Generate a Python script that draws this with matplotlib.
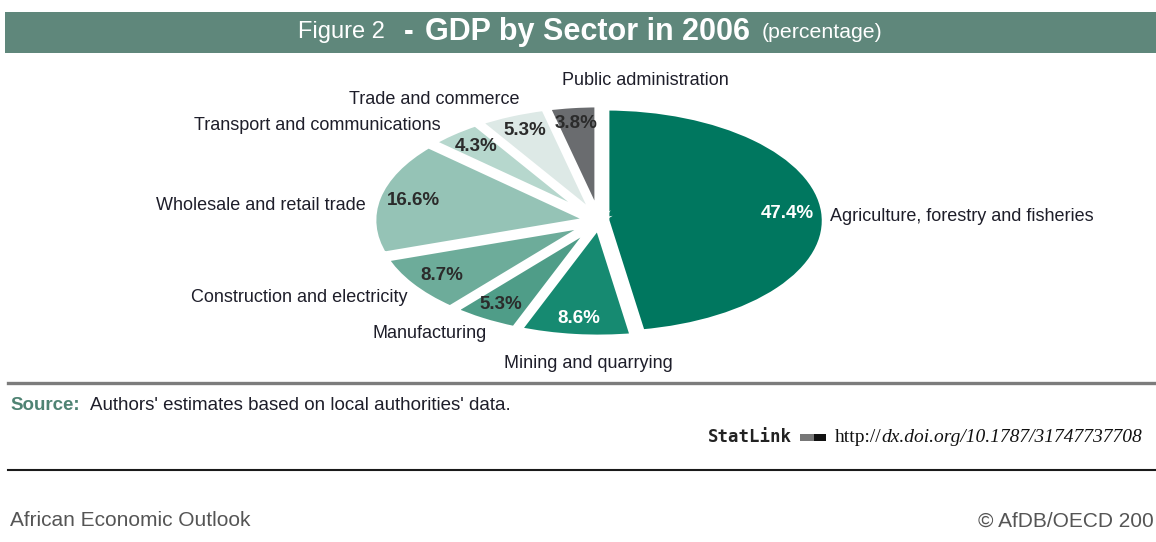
import matplotlib.pyplot as plt
from matplotlib.patches import Rectangle

sectors = ["Agriculture, forestry and fisheries", "Mining and quarrying", "Manufacturing",
           "Construction and electricity", "Wholesale and retail trade",
           "Transport and communications", "Trade and commerce", "Public administration"]
shares = [47.4, 8.6, 5.3, 8.7, 16.6, 4.3, 5.3, 3.8]
colors = ["#00775f", "#168a71", "#4f9d88", "#6dac9a", "#95c3b6", "#b6d7cd", "#dde9e6", "#6a6c6f"]
pct_colors = ["white", "white", "#2b2b2b", "#2b2b2b", "#2b2b2b", "#2b2b2b", "#2b2b2b", "#2b2b2b"]

# where each sector name sits (pie units) and how it is aligned
label_pos = [(1.05, 0.04, "left"), (-0.05, -1.25, "center"), (-0.51, -0.99, "right"),
             (-0.87, -0.67, "right"), (-1.06, 0.14, "right"), (-0.72, 0.84, "right"),
             (-0.36, 1.07, "right"), (0.21, 1.23, "center")]

W, H = 1156, 542
CX, CY, RX, RY = 599, 221, 220, 114

fig = plt.figure(figsize=(W / 100, H / 100), dpi=100)
fig.patch.set_facecolor("white")

ax = fig.add_axes([0, 0, 1, 1])
wedges, texts, autotexts = ax.pie(
    shares, colors=colors, startangle=90, counterclock=False,
    explode=[0.03] * len(shares),
    wedgeprops=dict(edgecolor="white", linewidth=5.5),
    autopct=lambda p: f"{p:.1f}%", pctdistance=0.83,
    textprops=dict(fontsize=13.5, fontweight="bold", family="Liberation Sans"))
for t, c in zip(autotexts, pct_colors):
    t.set_color(c)
ax.set_aspect("auto")
ax.set_xlim(-CX / RX, (W - CX) / RX)
ax.set_ylim(-(H - CY) / RY, CY / RY)
ax.axis("off")

for name, (x, y, ha) in zip(sectors, label_pos):
    ax.text(x, y, name, ha=ha, va="center", fontsize=13, color="#1e1e2a",
            family="Liberation Sans")

# header bar
fig.patches.append(Rectangle((5 / W, 1 - 53 / H), 1 - 5 / W, 41 / H,
                             transform=fig.transFigure, facecolor="#5f877b",
                             edgecolor="none", zorder=0))

# title in pieces: plain, bold, small
pieces = [(298, "Figure 2", dict(fontsize=17)),
          (404, "-", dict(fontsize=21, fontweight="bold")),
          (425, "GDP by Sector in 2006", dict(fontsize=22, fontweight="bold")),
          (762, "(percentage)", dict(fontsize=15.3))]
for x, s, kw in pieces:
    fig.text(x / W, 1 - 32 / H, s, color="white", va="center", ha="left",
             family="Liberation Sans", **kw)

# rules
fig.add_artist(plt.Line2D([8 / W, 1], [1 - 383 / H] * 2, color="#7c7c7c", lw=2.4))
fig.add_artist(plt.Line2D([8 / W, 1], [1 - 470 / H] * 2, color="#1a1a1a", lw=1.5))

# source line
fig.text(10 / W, 1 - 405 / H, "Source:", color="#4f8373", fontsize=13.5,
         fontweight="bold", family="Liberation Sans", va="center")
fig.text(90 / W, 1 - 405 / H, "Authors' estimates based on local authorities' data.",
         color="#1e1e2a", fontsize=13.5, family="Liberation Sans", va="center")

# statlink
renderer = fig.canvas.get_renderer()
fig.text(708 / W, 1 - 437 / H, "StatLink", fontsize=12.5, fontweight="bold",
         family="DejaVu Sans Mono", color="#222222", va="center")
fig.patches.append(Rectangle((800 / W, 1 - 441 / H), 14 / W, 7 / H,
                             transform=fig.transFigure, facecolor="#777777", edgecolor="none"))
fig.patches.append(Rectangle((814 / W, 1 - 441 / H), 12 / W, 7 / H,
                             transform=fig.transFigure, facecolor="#111111", edgecolor="none"))
t = fig.text(835 / W, 1 - 437 / H, "http://", fontsize=14, family="Liberation Serif",
             color="#111111", va="center")
x = 835 + t.get_window_extent(renderer).width
fig.text(x / W, 1 - 437 / H, "dx.doi.org/10.1787/31747737708", fontsize=14,
         family="Liberation Serif", style="italic", color="#111111", va="center")

# footer
fig.text(10 / W, 1 - 521 / H, "African Economic Outlook", fontsize=15,
         family="Liberation Sans", color="#555555", va="center")
fig.text(1154 / W, 1 - 521 / H, "© AfDB/OECD 200", fontsize=15, ha="right",
         family="Liberation Sans", color="#555555", va="center")

fig.savefig("out.png", dpi=100)
